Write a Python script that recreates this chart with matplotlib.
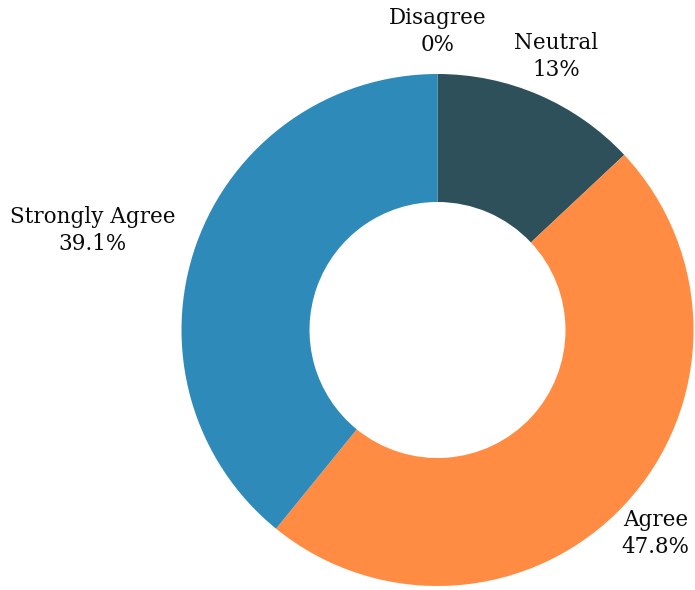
import numpy as np
import matplotlib.pyplot as plt

labels = ["Disagree", "Neutral", "Agree", "Strongly Agree"]
values = [0.0, 13.0, 47.8, 39.1]
pct_text = ["0%", "13%", "47.8%", "39.1%"]
colors = ["#c9563c", "#2d505b", "#ff8c42", "#2e8bb9"]

W, H = 695, 590
fig = plt.figure(figsize=(W / 100, H / 100), dpi=100)
cx, cy, R = 437.5, 330.0, 256.0
ax = fig.add_axes([(cx - R) / W, (H - cy - R) / H, 2 * R / W, 2 * R / H])

wedges, _ = ax.pie(values, colors=colors, startangle=90, counterclock=False,
                   radius=1.0, wedgeprops=dict(width=0.5, linewidth=0))
ax.set_xlim(-1, 1)
ax.set_ylim(-1, 1)
ax.set_aspect("equal")
ax.axis("off")

total = sum(values)
start = 90.0
label_r = 1.165
offsets = {"Strongly Agree": (-0.25, 0.0)}
for lab, v, pt in zip(labels, values, pct_text):
    mid = start - v / total * 360 / 2
    start -= v / total * 360
    ang = np.deg2rad(mid)
    x = label_r * np.cos(ang)
    y = label_r * np.sin(ang)
    dx, dy = offsets.get(lab, (0.0, 0.0))
    ax.text(x + dx, y + dy, f"{lab}\n{pt}", ha="center", va="center",
            family=["DejaVu Serif"], fontsize=15.5,
            linespacing=1.3, color="#0a0a0a", clip_on=False)

fig.savefig("out.png", dpi=100, facecolor="white")
